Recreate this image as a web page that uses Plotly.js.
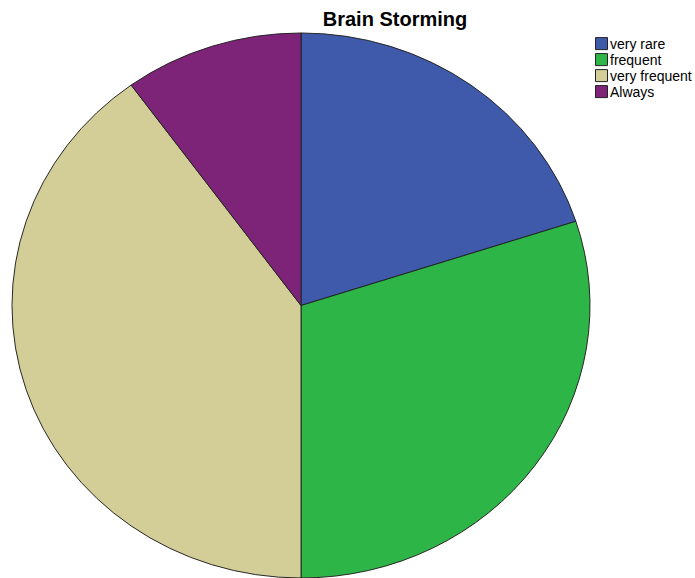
<!DOCTYPE html>
<html>
<head>
<meta charset="utf-8">
<script src="https://cdn.plot.ly/plotly-3.0.1.min.js"></script>
<style>html,body{margin:0;padding:0;background:#fff;overflow:hidden;}#chart{overflow:hidden;}</style>
</head>
<body>
<div id="chart" style="width:695px;height:578px;"></div>
<script>
const categories = ["very rare", "frequent", "very frequent", "Always"];
const values = [20, 30, 40, 10];
const colors = ["#3F59AB", "#2EB548", "#D3CE98", "#7E2478"];

const H = 600; // figure drawn taller, page clips to 578

const trace = {
  type: "pie",
  labels: categories,
  values: values,
  sort: false,
  direction: "clockwise",
  rotation: 0,
  textinfo: "none",
  hoverinfo: "label+percent",
  marker: { colors: colors, line: { color: "#222222", width: 1 } },
  domain: { x: [0, 1], y: [0, 1] }
};

const layout = {
  width: 695,
  height: H,
  margin: { l: 12, r: 105, t: 0, b: 0, pad: 0, autoexpand: false },
  paper_bgcolor: "#ffffff",
  plot_bgcolor: "#ffffff",
  title: {
    text: "<b>Brain Storming</b>",
    font: { family: "Liberation Sans, Arial, sans-serif", size: 20, color: "#000" },
    x: 395 / 695, xanchor: "center", xref: "container",
    y: 1 - 19 / H, yanchor: "middle", yref: "container"
  },
  showlegend: true,
  legend: {
    xref: "container", yref: "container",
    x: 570 / 695, xanchor: "left",
    y: 1 - 28 / H, yanchor: "top",
    font: { family: "Liberation Sans, Arial, sans-serif", size: 14, color: "#000" },
    bgcolor: "rgba(0,0,0,0)",
    itemwidth: 30,
    tracegroupgap: 0
  }
};

Plotly.newPlot("chart", [trace], layout, { staticPlot: true, displayModeBar: false }).then(function (gd) {
  // squash the pie vertically into the ellipse of the reference
  const ry = 272.5, rx = 289, cyTarget = 305.5, cy = H / 2;
  const layer = gd.querySelector(".pielayer");
  if (layer) {
    layer.setAttribute("transform",
      "translate(0," + cyTarget + ") scale(1," + (ry / rx) + ") translate(0," + (-cy) + ")");
  }
  // tighter legend rows and symbol-to-text gap, as in the reference
  const items = gd.querySelectorAll(".legend .traces");
  let y0 = null;
  items.forEach(function (el, i) {
    const m = /translate\(\s*([-\d.]+)[ ,]+([-\d.]+)\s*\)/.exec(el.getAttribute("transform") || "");
    if (!m) return;
    const x = parseFloat(m[1]);
    if (y0 === null) y0 = parseFloat(m[2]);
    el.setAttribute("transform", "translate(" + x + "," + (y0 + 16 * i) + ")");
    const pts = el.querySelector(".legendpoints");
    if (pts) pts.setAttribute("transform", "translate(11.5,0)");
  });
});
</script>
</body>
</html>
